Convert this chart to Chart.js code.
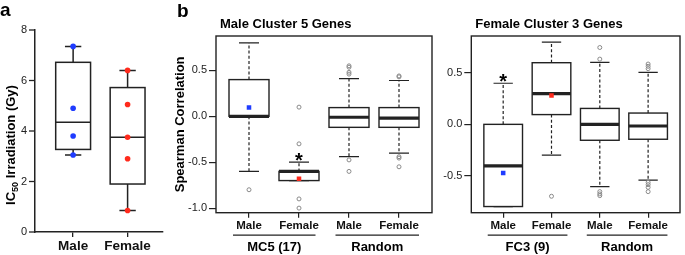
<!DOCTYPE html>
<html>
<head>
<meta charset="utf-8">
<script src="https://cdn.jsdelivr.net/npm/chart.js@4.4.1/dist/chart.umd.min.js"></script>
<style>
    html, body { margin: 0; padding: 0; background: #fff; }
    #wrap { position: relative; width: 685px; height: 255px; overflow: hidden; }
    #wrap canvas { position: absolute; left: 0; top: 0; }
</style>
</head>
<body>
<div id="wrap">
    <canvas id="mc5Chart" width="685" height="255"></canvas>
    <canvas id="fc3Chart" width="685" height="255"></canvas>
    <canvas id="ic50Chart" width="685" height="255"></canvas>
</div>
<script>
    // panel a - IC50 irradiation
    const ic50Labels = ['Male', 'Female'];
    const ic50Male = [7.35, 4.9, 3.8, 3.05];
    const ic50Female = [6.4, 5.05, 3.75, 2.9, 0.85];
    const ic50Low = [3.05, 0.85];
    const ic50Q1 = [3.27, 1.9];
    const ic50Median = [4.35, 3.75];
    const ic50Q3 = [6.72, 5.72];
    const ic50High = [7.35, 6.4];
    const ic50Ticks = [0, 2, 4, 6, 8];

    // panel b - shared
    const sexLabels = ['Male', 'Female', 'Male', 'Female'];

    // Male Cluster 5 genes
    const mc5Groups = ['MC5 (17)', 'Random'];
    const mc5Low = [-0.6, -0.7, -0.44, -0.4];
    const mc5Q1 = [0.0, -0.7, -0.12, -0.12];
    const mc5Median = [0.0, -0.6, -0.01, -0.02];
    const mc5Q3 = [0.4, -0.6, 0.095, 0.095];
    const mc5High = [0.8, -0.5, 0.41, 0.39];
    const mc5Mean = [0.095, -0.68];
    const mc5Outliers = [
        [-0.8],
        [0.1, -0.3, -0.9, -1.0],
        [0.55, 0.535, 0.48, 0.46, -0.475, -0.6],
        [0.44, 0.43, -0.44, -0.455, -0.55]
    ];
    const mc5Ticks = [0.5, 0.0, -0.5, -1.0];

    // Female Cluster 3 genes
    const fc3Groups = ['FC3 (9)', 'Random'];
    const fc3Low = [-0.8, -0.3, -0.606, -0.542];
    const fc3Q1 = [-0.8, 0.095, -0.155, -0.145];
    const fc3Median = [-0.405, 0.3, 0.0, -0.016];
    const fc3Q3 = [0.0, 0.6, 0.155, 0.11];
    const fc3High = [0.4, 0.8, 0.603, 0.506];
    const fc3Mean = [-0.474, 0.28];
    const fc3Outliers = [
        [],
        [-0.7],
        [0.748, 0.635, -0.655, -0.677, -0.694],
        [0.587, 0.565, 0.542, -0.565, -0.587, -0.613, -0.655]
    ];
    const fc3Ticks = [0.5, 0.0, -0.5];

    const FONT = '"Liberation Sans", Arial, Helvetica, sans-serif';
    const BLUE = '#1f3cff';
    const RED = '#ff2a1c';
    const INK = '#222';

    Chart.defaults.font.family = FONT;
    Chart.defaults.animation = false;

    // draws boxes + whiskers from the stats, through the chart scales
    const boxPlotPlugin = {
        id: 'boxPlot',
        beforeDatasetsDraw(chart, args, opts) {
            if (!opts.median) return;
            const { ctx } = chart;
            const x = chart.scales.x, y = chart.scales.y;
            ctx.save();
            ctx.strokeStyle = opts.color;
            opts.median.forEach((med, i) => {
                const pos = i + 1;
                const cx = x.getPixelForValue(pos);
                const bl = x.getPixelForValue(pos - opts.boxWidth / 2);
                const br = x.getPixelForValue(pos + opts.boxWidth / 2);
                const cl = x.getPixelForValue(pos - opts.capWidth / 2);
                const cr = x.getPixelForValue(pos + opts.capWidth / 2);
                const yLow = y.getPixelForValue(opts.low[i]);
                const yQ1 = y.getPixelForValue(opts.q1[i]);
                const yMed = y.getPixelForValue(med);
                const yQ3 = y.getPixelForValue(opts.q3[i]);
                const yHigh = y.getPixelForValue(opts.high[i]);

                ctx.lineWidth = opts.whiskerWidth;
                ctx.setLineDash(opts.dash || []);
                ctx.beginPath();
                ctx.moveTo(cx, yQ3); ctx.lineTo(cx, yHigh);
                ctx.moveTo(cx, yQ1); ctx.lineTo(cx, yLow);
                ctx.stroke();
                ctx.setLineDash([]);
                ctx.beginPath();
                ctx.moveTo(cl, yHigh); ctx.lineTo(cr, yHigh);
                ctx.moveTo(cl, yLow); ctx.lineTo(cr, yLow);
                ctx.stroke();

                ctx.lineWidth = opts.lineWidth;
                ctx.strokeRect(bl, yQ3, br - bl, yQ1 - yQ3);
                ctx.lineWidth = opts.medianWidth;
                ctx.beginPath();
                ctx.moveTo(bl, yMed); ctx.lineTo(br, yMed);
                ctx.stroke();
            });
            ctx.restore();
        }
    };

    // frame, titles, panel letters, group labels, asterisks
    const panelTextPlugin = {
        id: 'panelText',
        afterDraw(chart, args, opts) {
            const { ctx, chartArea: area } = chart;
            const x = chart.scales.x, y = chart.scales.y;
            ctx.save();
            ctx.fillStyle = '#000';
            if (opts.frame) {
                ctx.lineWidth = 1.4;
                ctx.strokeStyle = INK;
                ctx.strokeRect(area.left, area.top, area.right - area.left, area.bottom - area.top);
            }
            if (opts.yTicks) {
                // y ticks of panel a, placed by the y scale
                const len = opts.yTicks.length, pad = opts.yTicks.padding;
                ctx.strokeStyle = INK;
                ctx.lineWidth = 1.3;
                ctx.fillStyle = INK;
                ctx.font = `11px ${FONT}`;
                ctx.textAlign = 'right';
                ctx.textBaseline = 'middle';
                opts.yTicks.values.forEach(v => {
                    const py = y.getPixelForValue(v);
                    ctx.beginPath();
                    ctx.moveTo(area.left - len, py); ctx.lineTo(area.left, py);
                    ctx.stroke();
                    ctx.fillText(String(v), area.left - len - pad, py);
                });
                ctx.fillStyle = '#000';
            }
            if (opts.letter) {
                ctx.font = `bold 19px ${FONT}`;
                ctx.textAlign = 'left';
                ctx.textBaseline = 'alphabetic';
                ctx.fillText(opts.letter.text, opts.letter.x, opts.letter.y);
            }
            if (opts.title) {
                ctx.font = `bold 13px ${FONT}`;
                ctx.textAlign = 'left';
                ctx.textBaseline = 'middle';
                ctx.fillText(opts.title, area.left + 4, area.top - 12);
            }
            if (opts.groups) {
                const lineY = area.bottom + 22.5;
                opts.groups.labels.forEach((label, i) => {
                    const [a, b] = opts.groups.spans[i];
                    const xa = x.getPixelForValue(a), xb = x.getPixelForValue(b);
                    ctx.strokeStyle = INK;
                    ctx.lineWidth = 1.2;
                    ctx.beginPath();
                    ctx.moveTo(xa, lineY); ctx.lineTo(xb, lineY);
                    ctx.stroke();
                    ctx.font = `bold 13px ${FONT}`;
                    ctx.textAlign = 'center';
                    ctx.textBaseline = 'middle';
                    ctx.fillText(label, (xa + xb) / 2, lineY + 12);
                });
            }
            if (opts.star) {
                ctx.font = `bold 20px ${FONT}`;
                ctx.textAlign = 'center';
                ctx.textBaseline = 'alphabetic';
                ctx.fillText('*', x.getPixelForValue(opts.star[0]), y.getPixelForValue(opts.star[1]) + 11.5);
            }
            if (opts.ic50Title) {
                // rotated label with a real subscript
                ctx.translate(opts.ic50Title.x, opts.ic50Title.y);
                ctx.rotate(-Math.PI / 2);
                const big = `bold 13px ${FONT}`, small = `bold 9px ${FONT}`;
                ctx.font = big; const w1 = ctx.measureText('IC').width;
                const w3 = ctx.measureText(' Irradiation (Gy)').width;
                ctx.font = small; const w2 = ctx.measureText('50').width;
                let sx = -(w1 + w2 + w3) / 2;
                ctx.textAlign = 'left';
                ctx.textBaseline = 'alphabetic';
                ctx.font = big; ctx.fillText('IC', sx, 4.7); sx += w1;
                ctx.font = small; ctx.fillText('50', sx, 7.5); sx += w2;
                ctx.font = big; ctx.fillText(' Irradiation (Gy)', sx, 4.7);
            }
            ctx.restore();
        }
    };

    Chart.register(boxPlotPlugin, panelTextPlugin);

    document.addEventListener('DOMContentLoaded', function () {
        try {
            renderCorrelationChart('mc5Chart', {
                padding: { left: 169, right: 253, top: 36, bottom: 12.3 },
                yMin: -1.05, yMax: 0.875, ticks: mc5Ticks,
                low: mc5Low, q1: mc5Q1, median: mc5Median, q3: mc5Q3, high: mc5High,
                mean: mc5Mean, outliers: mc5Outliers, groups: mc5Groups,
                title: 'Male Cluster 5 Genes', letter: { text: 'b', x: 177, y: 16.5 },
                star: [2, -0.43], yTitle: true
            });
            renderCorrelationChart('fc3Chart', {
                padding: { left: 424.3, right: 2, top: 36, bottom: 12.3 },
                yMin: -0.86, yMax: 0.86, ticks: fc3Ticks,
                low: fc3Low, q1: fc3Q1, median: fc3Median, q3: fc3Q3, high: fc3High,
                mean: fc3Mean, outliers: fc3Outliers, groups: fc3Groups,
                title: 'Female Cluster 3 Genes', letter: null,
                star: [1, 0.47], yTitle: false
            });
            renderIc50Chart();
        } catch (error) {
            console.error('Error initializing charts:', error);
        }
    });

    function renderIc50Chart() {
        const ctx = document.getElementById('ic50Chart').getContext('2d');
        new Chart(ctx, {
            type: 'scatter',
            data: {
                datasets: [
                    {
                        data: ic50Male.map(v => ({ x: 1, y: v })),
                        backgroundColor: BLUE, borderWidth: 0, pointRadius: 2.8
                    },
                    {
                        data: ic50Female.map(v => ({ x: 2, y: v })),
                        backgroundColor: RED, borderWidth: 0, pointRadius: 2.8
                    }
                ]
            },
            options: {
                responsive: false,
                layout: { padding: { left: 0, right: 522, top: 30, bottom: 0 } },
                events: [],
                plugins: {
                    legend: { display: false },
                    tooltip: { enabled: false },
                    boxPlot: {
                        low: ic50Low, q1: ic50Q1, median: ic50Median, q3: ic50Q3, high: ic50High,
                        boxWidth: 0.64, capWidth: 0.3, color: INK,
                        lineWidth: 1.5, medianWidth: 1.5, whiskerWidth: 1.5
                    },
                    panelText: {
                        yTicks: { values: ic50Ticks, length: 6, padding: 2 },
                        letter: { text: 'a', x: 0, y: 15.5 },
                        ic50Title: { x: 10.5, y: 145 }
                    }
                },
                scales: {
                    x: {
                        type: 'linear', min: 0.3, max: 2.65,
                        afterBuildTicks: s => { s.ticks = ic50Labels.map((l, i) => ({ value: i + 1 })); },
                        afterFit: s => { s.height = 23; },
                        ticks: {
                            autoSkip: false,
                            callback: v => ic50Labels[v - 1],
                            font: { size: 13.5, weight: 'bold' }, color: '#111', padding: 1
                        },
                        grid: { drawOnChartArea: false, drawTicks: true, tickLength: 5, color: INK, lineWidth: 1.3 },
                        border: { display: true, color: INK, width: 1.5 }
                    },
                    y: {
                        min: 0, max: 8,
                        afterFit: s => { s.width = 35; },
                        // labels and tick marks come from the panelText plugin
                        ticks: { display: false },
                        grid: { display: false },
                        border: { display: true, color: INK, width: 1.5 }
                    }
                }
            }
        });
    }

    function renderCorrelationChart(canvasId, cfg) {
        const outlierPoints = cfg.outliers.flatMap((vals, i) => vals.map(v => ({ x: i + 1, y: v })));
        const ctx = document.getElementById(canvasId).getContext('2d');
        new Chart(ctx, {
            type: 'scatter',
            data: {
                datasets: [
                    {
                        data: outlierPoints,
                        pointStyle: 'circle', pointRadius: 2,
                        backgroundColor: 'rgba(0,0,0,0)', borderColor: '#8a8a8a', borderWidth: 1
                    },
                    {
                        data: [{ x: 1, y: cfg.mean[0] }],
                        pointStyle: 'rect', pointRadius: 3.2, backgroundColor: BLUE, borderWidth: 0
                    },
                    {
                        data: [{ x: 2, y: cfg.mean[1] }],
                        pointStyle: 'rect', pointRadius: 3.2, backgroundColor: RED, borderWidth: 0
                    }
                ]
            },
            options: {
                responsive: false,
                layout: { padding: cfg.padding },
                events: [],
                plugins: {
                    legend: { display: false },
                    tooltip: { enabled: false },
                    boxPlot: {
                        low: cfg.low, q1: cfg.q1, median: cfg.median, q3: cfg.q3, high: cfg.high,
                        boxWidth: 0.8, capWidth: 0.4, color: INK,
                        lineWidth: 1.4, medianWidth: 3.2, whiskerWidth: 1.2, dash: [3, 2.2]
                    },
                    panelText: {
                        frame: true,
                        title: cfg.title,
                        letter: cfg.letter,
                        groups: { labels: cfg.groups, spans: [[0.68, 2.33], [2.73, 4.4]] },
                        star: cfg.star
                    }
                },
                scales: {
                    x: {
                        type: 'linear', min: 0.34, max: 4.66,
                        afterBuildTicks: s => { s.ticks = sexLabels.map((l, i) => ({ value: i + 1 })); },
                        afterFit: s => { s.height = 30; },
                        ticks: {
                            autoSkip: false,
                            callback: v => sexLabels[v - 1],
                            font: { size: 11.5, weight: 'bold' }, color: '#111', padding: 1.5
                        },
                        grid: { drawOnChartArea: false, drawTicks: true, tickLength: 5, color: INK, lineWidth: 1.2 },
                        border: { display: false }
                    },
                    y: {
                        min: cfg.yMin, max: cfg.yMax,
                        afterBuildTicks: s => { s.ticks = cfg.ticks.map(v => ({ value: v })); },
                        afterFit: s => { s.width = 47; },
                        ticks: { autoSkip: false, callback: v => v.toFixed(1), font: { size: 11 }, color: INK, padding: 2 },
                        grid: { drawOnChartArea: false, drawTicks: true, tickLength: 7, color: INK, lineWidth: 1.2 },
                        border: { display: false },
                        title: {
                            display: cfg.yTitle, text: 'Spearman Correlation',
                            font: { size: 13, weight: 'bold' }, color: '#000', padding: { top: 4, bottom: 0 }
                        }
                    }
                }
            }
        });
    }
</script>
</body>
</html>
